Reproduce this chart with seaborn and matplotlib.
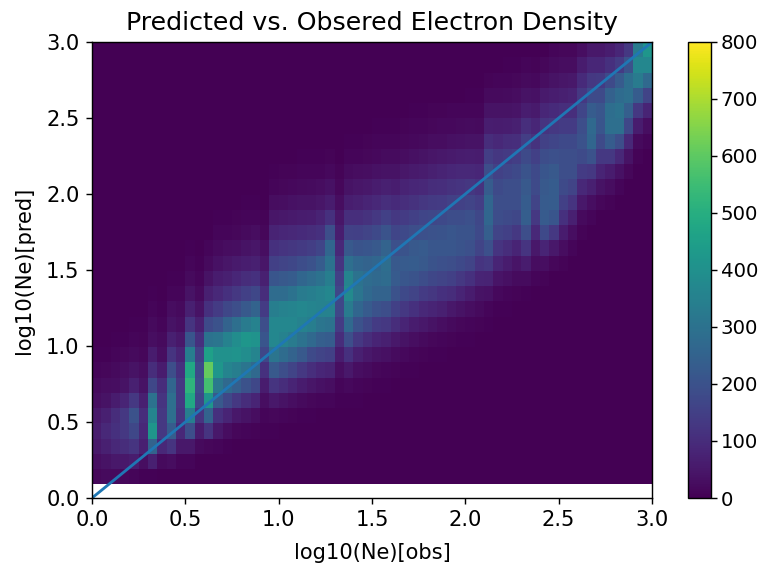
import numpy as np
import seaborn as sns
import matplotlib
matplotlib.use('Agg')
import matplotlib.pyplot as plt

# counts per column of the 2d histogram, bottom row first
counts_by_col = [
    [15,30,50,60,50,30,20,10,5],
    [20,40,70,90,70,40,25,15,5],
    [20,50,90,110,100,60,30,20,10,5],
    [15,50,100,130,130,80,40,25,15,5],
    [10,60,120,170,200,130,70,40,20,10,5],
    [5,30,70,90,100,70,40,25,15,8,5],
    [5,70,250,420,360,300,170,100,60,30,20,10,5],
    [3,20,90,130,130,120,100,60,30,20,10,5],
    [3,25,120,230,290,290,260,190,120,70,40,25,10,5],
    [2,10,50,90,120,130,130,110,80,50,30,20,10,5],
    [1,10,50,190,340,480,520,480,340,210,120,70,40,20,10,5],
    [1,3,20,60,120,170,190,180,150,110,70,40,20,10,5],
    [0,3,15,120,250,420,560,610,450,300,180,110,70,40,20,10],
    [0,2,10,50,110,220,320,420,400,310,200,140,90,60,35,20,10,5],
    [0,1,5,25,80,170,270,360,400,350,250,170,110,70,45,25,12,5],
    [0,1,3,15,50,130,240,340,410,390,290,190,130,85,55,30,15,8],
    [0,0,2,10,40,100,200,310,390,420,330,220,150,100,65,40,20,10,5],
    [0,0,2,8,25,80,170,270,360,410,350,250,170,110,70,45,25,12,5],
    [0,0,1,4,12,30,60,110,170,210,190,140,100,70,45,30,15,8],
    [0,0,1,4,15,50,120,220,310,370,370,340,280,210,150,110,75,45,25,12,5],
    [0,0,0,3,10,40,100,190,280,350,370,350,280,220,160,120,85,50,30,15,8],
    [0,0,0,2,8,30,80,160,250,330,370,360,300,230,170,125,90,55,35,18,8],
    [0,0,0,1,6,20,60,130,220,300,350,370,330,260,185,135,95,60,38,20,10,5],
    [0,0,0,1,5,15,45,105,180,270,340,360,340,280,200,145,100,65,40,22,12,5],
    [0,0,0,0,3,10,35,85,160,240,310,350,350,300,230,165,110,75,45,25,12,5],
    [0,0,0,0,3,10,30,75,150,230,300,350,370,340,300,260,190,110,60,35,18,8],
    [0,0,0,0,1,4,12,30,60,100,140,170,170,150,120,90,65,45,25,15,8],
    [0,0,0,0,1,6,18,50,110,190,270,330,380,360,290,220,155,105,65,40,22,10,5],
    [0,0,0,0,1,4,12,30,70,130,200,260,310,300,260,205,150,105,70,45,25,12,5],
    [0,0,0,0,0,3,8,22,50,100,170,225,270,280,250,210,160,115,80,50,30,15,8],
    [0,0,0,0,0,2,6,15,38,80,140,200,250,270,260,220,175,130,90,60,35,18,10,5],
    [0,0,0,0,0,2,5,12,32,70,130,190,250,280,285,250,205,150,105,70,40,22,12,5],
    [0,0,0,0,0,1,3,8,22,50,100,150,200,225,220,195,165,130,95,65,40,22,12,5],
    [0,0,0,0,0,0,2,5,16,40,80,130,175,215,225,205,175,140,105,75,48,28,15,8],
    [0,0,0,0,0,0,2,4,11,30,60,110,160,205,230,220,190,150,115,85,55,32,18,10,5],
    [0,0,0,0,0,0,1,3,8,20,50,90,140,185,220,225,195,165,125,90,62,38,20,12,5],
    [0,0,0,0,0,0,0,2,6,15,40,80,125,170,205,215,200,170,135,100,70,45,25,14,8],
    [0,0,0,0,0,0,0,1,4,11,30,70,110,160,195,215,205,175,140,105,75,50,28,16,8],
    [0,0,0,0,0,0,0,1,3,8,20,50,100,150,190,215,215,185,150,115,85,55,32,18,10],
    [0,0,0,0,0,0,0,0,2,6,15,40,80,130,175,205,205,185,155,120,90,60,35,20,10],
    [0,0,0,0,0,0,0,0,1,4,10,30,60,110,160,195,205,195,160,125,90,65,40,22,12,5],
    [0,0,0,0,0,0,0,0,1,3,7,20,40,80,120,160,175,170,145,115,85,60,38,20,10,5],
    [0,0,0,0,0,0,0,0,0,2,5,12,35,75,130,195,240,260,260,230,190,145,100,65,38,20,8],
    [0,0,0,0,0,0,0,0,0,1,3,6,18,42,80,120,160,185,190,180,155,125,90,60,38,20,10],
    [0,0,0,0,0,0,0,0,0,0,2,4,12,32,60,100,150,180,190,190,165,135,100,65,40,22,12,5],
    [0,0,0,0,0,0,0,0,0,0,1,3,8,22,42,80,130,170,190,190,175,145,105,70,42,25,14,6],
    [0,0,0,0,0,0,0,0,0,0,1,2,6,22,60,120,190,235,230,220,205,180,145,105,65,38,20,10],
    [0,0,0,0,0,0,0,0,0,0,0,1,3,12,27,50,90,130,160,180,175,150,115,85,55,35,18,8],
    [0,0,0,0,0,0,0,0,0,0,0,0,2,9,30,80,175,225,225,220,210,185,155,120,85,55,30,15],
    [0,0,0,0,0,0,0,0,0,0,0,0,0,0,15,50,130,210,230,230,220,195,165,130,95,65,40,22,12],
    [0,0,0,0,0,0,0,0,0,0,0,0,0,0,8,25,60,110,150,180,190,190,175,140,105,70,45,25,15],
    [0,0,0,0,0,0,0,0,0,0,0,0,0,0,0,12,30,70,120,160,190,190,175,140,105,75,50,28,15],
    [0,0,0,0,0,0,0,0,0,0,0,0,0,0,0,0,8,20,50,90,140,180,200,190,165,130,95,60,30],
    [0,0,0,0,0,0,0,0,0,0,0,0,0,0,0,0,0,10,30,70,130,200,260,270,230,180,130,85,50],
    [0,0,0,0,0,0,0,0,0,0,0,0,0,0,0,0,0,0,15,40,80,130,180,210,215,180,135,85,50],
    [0,0,0,0,0,0,0,0,0,0,0,0,0,0,0,0,0,0,8,25,60,130,230,290,285,245,180,110,65],
    [0,0,0,0,0,0,0,0,0,0,0,0,0,0,0,0,0,0,0,12,35,90,190,290,300,275,225,140,85],
    [0,0,0,0,0,0,0,0,0,0,0,0,0,0,0,0,0,0,0,0,15,40,90,170,240,290,285,200,130],
    [0,0,0,0,0,0,0,0,0,0,0,0,0,0,0,0,0,0,0,0,0,8,20,60,130,230,330,370,330],
    [0,0,0,0,0,0,0,0,0,0,0,0,0,0,0,0,0,0,0,0,0,0,10,30,80,160,270,370,420],
]
n_rows = 29

x_edges = np.linspace(0, 3, 61)
y_edges = np.linspace(0.09, 3, n_rows + 1)
x_mid = (x_edges[:-1] + x_edges[1:]) / 2
y_mid = (y_edges[:-1] + y_edges[1:]) / 2

# long form so histplot can bin it with weights
xs, ys, ws = [], [], []
for i, col in enumerate(counts_by_col):
    col = col + [0] * (n_rows - len(col))
    for j, c in enumerate(col):
        xs.append(x_mid[i]); ys.append(y_mid[j]); ws.append(c)

diag = [0, 3]
ticks = [0.0, 0.5, 1.0, 1.5, 2.0, 2.5, 3.0]
cbar_ticks = [0, 100, 200, 300, 400, 500, 600, 700, 800]

plt.rcParams['font.size'] = 12
W, H = 762, 567
fig = plt.figure(figsize=(W / 127, H / 127), dpi=127)
ax = fig.add_axes([92 / W, 1 - 498 / H, 560 / W, 456 / H])
cax = fig.add_axes([688 / W, 1 - 498 / H, 23 / W, 456 / H])

sns.histplot(x=xs, y=ys, weights=ws, bins=[x_edges, y_edges], thresh=None,
             cmap='viridis', vmin=0, vmax=800, cbar=True, cbar_ax=cax, ax=ax)
ax.plot(diag, diag, linewidth=1.6)
ax.set_xlim(0, 3); ax.set_ylim(0, 3)
ax.set_xticks(ticks); ax.set_yticks(ticks)
cax.set_yticks(cbar_ticks)
ax.tick_params(labelsize=11.9)
cax.tick_params(labelsize=11.2, pad=2)
ax.set_xlabel('log10(Ne)[obs]', fontsize=11.9, labelpad=7)
ax.set_ylabel('log10(Ne)[pred]', fontsize=11.9, labelpad=7)
ax.set_title('Predicted vs. Obsered Electron Density', fontsize=14.3, pad=7)
fig.savefig('out.png', dpi=127)
